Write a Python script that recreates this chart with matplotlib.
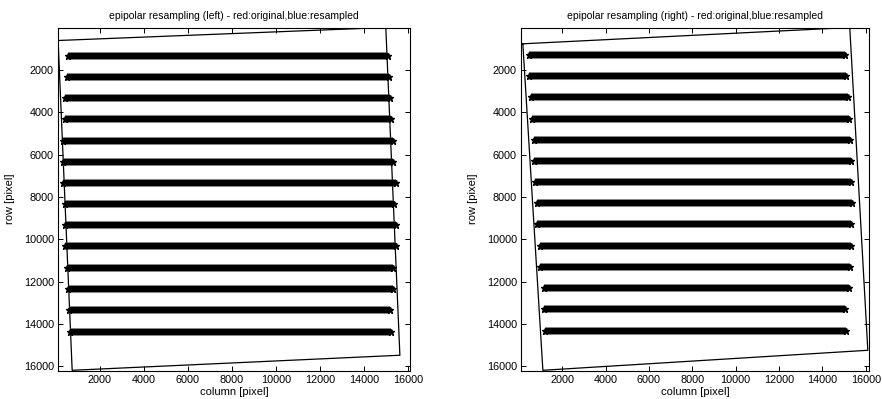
import matplotlib
matplotlib.use("Agg")
import matplotlib.pyplot as plt

plt.rcParams['font.family'] = ['Liberation Sans', 'DejaVu Sans']

# ---- data ----
titles = ["epipolar resampling (left) - red:original,blue:resampled",
          "epipolar resampling (right) - red:original,blue:resampled"]
xlabel = "column [pixel]"
ylabel = "row [pixel]"
xticks = [2000, 4000, 6000, 8000, 10000, 12000, 14000, 16000]
yticks = [2000, 4000, 6000, 8000, 10000, 12000, 14000, 16000]

# image-boundary quadrilaterals (column, row), closed
left_quad_x = [105, 15000, 15640, 744, 105]
left_quad_y = [614, 0, 15480, 16190, 614]
right_quad_x = [185, 15263, 16096, 1109, 185]
right_quad_y = [770, 0, 15245, 16190, 770]

# point rows: row position, start column, end column
left_row_y = [1340, 2340, 3340, 4340, 5340, 6340, 7340,
              8340, 9340, 10340, 11340, 12340, 13340, 14360]
left_row_x0 = [570, 490, 410, 410, 330, 330, 330,
               420, 420, 420, 500, 570, 620, 650]
left_row_x1 = [15080, 15150, 15200, 15230, 15310, 15310, 15460,
               15380, 15460, 15460, 15310, 15310, 15200, 15230]

right_row_y = [1300, 2300, 3300, 4300, 5300, 6300, 7300,
               8300, 9300, 10300, 11300, 12300, 13300, 14320]
right_row_x0 = [480, 480, 550, 590, 680, 680, 740,
                830, 860, 970, 980, 1140, 1170, 1200]
right_row_x1 = [15060, 15110, 15190, 15220, 15260, 15310, 15340,
                15380, 15340, 15340, 15260, 15220, 15060, 15110]

fig = plt.figure(figsize=(8.82, 3.99), dpi=100)
axL = fig.add_axes([58/882, 1-370.5/399, 352/882, 343/399])
axR = fig.add_axes([521/882, 1-370.5/399, 348/882, 343/399])

panels = [
    (axL, titles[0], left_quad_x, left_quad_y, left_row_y, left_row_x0, left_row_x1, 16100),
    (axR, titles[1], right_quad_x, right_quad_y, right_row_y, right_row_x0, right_row_x1, 16150),
]

for ax, title, qx, qy, ry, rx0, rx1, xmax in panels:
    ax.plot(qx, qy, color='black', lw=0.9)
    for y, x0, x1 in zip(ry, rx0, rx1):
        ax.plot([x0, x1], [y, y], color='#444444', lw=5.8, alpha=0.6,
                solid_capstyle='butt')
        ax.plot([x0, x1], [y, y], color='black', lw=4.4,
                solid_capstyle='butt', marker='*', markersize=5)
    ax.set_xlim(100, xmax)
    ax.set_ylim(16200, 0)
    ax.set_xticks(xticks)
    ax.set_yticks(yticks)
    ax.tick_params(direction='in', length=3.5, width=0.7, labelsize=7.8,
                   top=True, right=True, pad=3, colors='black')
    for s in ax.spines.values():
        s.set_linewidth(0.8)
        s.set_color('black')
    ax.set_title(title, fontsize=7.5, pad=6)
    ax.set_xlabel(xlabel, fontsize=8, labelpad=2)
    ax.set_ylabel(ylabel, fontsize=8, labelpad=6)

fig.savefig("out.png", dpi=100)
